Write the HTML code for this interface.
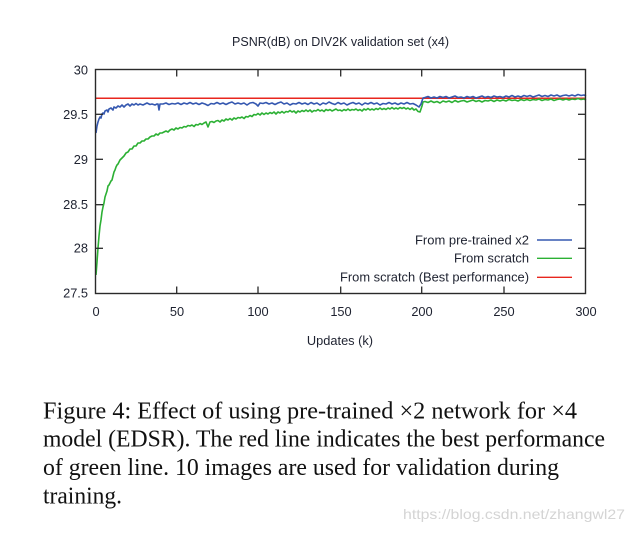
<!DOCTYPE html>
<html><head><meta charset="utf-8"><style>
html,body{margin:0;padding:0;background:#fff;}
svg{display:block;}
.s{font-family:"Liberation Sans",sans-serif;fill:#1e2230;font-size:12.8px;}
.c{font-family:"Liberation Serif",serif;fill:#111;font-size:24px;}
</style></head><body>
<svg width="635" height="533" viewBox="0 0 635 533" xmlns="http://www.w3.org/2000/svg">
<rect width="635" height="533" fill="#fff"/>
<text class="s" x="232" y="46" textLength="217" lengthAdjust="spacingAndGlyphs">PSNR(dB) on DIV2K validation set (x4)</text>
<line x1="96" y1="98.3" x2="586" y2="98.3" stroke="#e8261e" stroke-width="1.5"/>
<polyline fill="none" stroke="#2cb034" stroke-width="1.6" stroke-linejoin="round" points="96,275 97,262 98,248 99,236 100,226 101,220 102,212 103,207 104,203 105,197 106,194 107,191 108,186 109,185 110,183 111,181 112,180 113,176 114,172 115,170 116,167 117,165 118,164 120,160 122,158 124,156 126,153 128,152 130,149 132,149 134,146 136,146 138,143 140,143 142,141 144,141 146,139 148,139 150,137 152,136 154,136 156,134 158,135 160,133 162,133 164,132 166,131 168,132 170,130 172,129 174,130 176,128 178,129 180,127.5 182,128 184,126.5 186,127 188,125.5 190,126 192,125 194,126.5 196,124.5 198,125 200,123.5 202,124.5 204,123 206,122 208,127 210,122 212,121.5 214,122.5 216,121 218,120.5 220,122 222,120 224,121 226,119 228,120 230,118.5 232,120 234,118 236,119 238,117.5 240,118 242,117 244,118.5 246,116.5 248,117 250,115.5 252,116.5 254,114.5 256,115 258,113.5 260,115 262,113 264,114.5 266,113 268,114 270,112.5 272,113.5 274,112 276,114 278,112 280,113 282,111.5 284,113 286,111.5 288,112 290,110.5 292,112 294,111 296,113 298,111 300,112 302,110.5 304,111.5 306,110 308,111.5 310,110 312,112 314,110.5 316,111 318,109.5 320,111 322,110 324,111.5 326,109.5 328,110.5 330,109.5 332,111 334,110 336,109 338,110.5 340,110 342,111 344,109.5 346,110.5 348,109 350,110.5 352,109.5 354,110 356,109 358,110.5 360,109.5 362,111 364,109 366,110 368,108.5 370,110 372,109 374,110 376,108.5 378,109.5 380,108 382,109.5 384,108.5 386,109.5 388,108 390,109 392,107.5 394,109 396,108 398,109 400,107.5 402,108.5 404,107.5 406,109 408,108 410,109.5 412,108 414,110 416,109 418,111.5 420,112 422,106 423,102 425,101.5 428,102.5 431,101 434,102.5 437,101.5 440,103 443,101 446,102 449,101 452,102.5 455,100.5 458,102 461,101 464,100.5 467,102 470,101 473,100 476,101.5 479,100.5 482,102 485,100.5 488,101 491,100 494,101.5 497,100 500,101 503,100 506,101 509,99.5 512,100.5 515,100 518,101 521,99.5 524,100.5 527,99.5 530,100.5 533,99.5 536,100 539,99 542,100.5 545,99.5 548,100 551,99 554,100.5 557,99.5 560,99 563,100 566,99 569,100 572,99 575,99.5 578,98.5 581,99.5 584,99 586,100"/>
<polyline fill="none" stroke="#3558b0" stroke-width="1.6" stroke-linejoin="round" points="96,133 97,126 98,122 99,119 100,117 101,118 102,114 103,113 104,114 105,111 107,110 108,112 109,109 111,108 113,110 114,107 116,108 118,106 120,107 122,105 124,107 126,105 128,104 130,106 132,104 134,105 136,103.5 138,105 140,104 143,105 145,104 147,103 150,104.5 152,104 155,105 157,104 158,104 159,110 160,104 163,104 166,103 169,104.5 172,103.5 175,104 178,103 181,104.5 184,103 187,104 190,102.5 193,104 196,103 199,104.5 202,103 205,104 208,105.5 211,103.5 214,104 217,102.5 220,104 223,103 226,104.5 229,103 232,102 235,104 238,103 241,104 244,103 247,105 250,103 253,102.5 256,104 258,106 260,103 263,103.5 266,102.5 269,104 272,103 275,104.5 278,103 281,102 284,104 287,103 290,105 293,103.5 296,104 299,102.5 302,104 305,103 308,104.5 311,102.5 314,104 317,103 320,105 323,103 326,104 329,102 332,103.5 335,104.5 338,102.5 341,104 344,103 347,105 350,103.5 353,102.5 356,104 359,103 362,105 365,103 368,104 371,102.5 374,104 377,103 380,105 383,103.5 386,104 389,102.5 392,104 395,103 398,104.5 401,103 404,104 407,102.5 410,104 413,103.5 416,105 419,107 421,104 423,98 425,97.5 428,96.5 431,98 434,97 437,98 440,96.5 443,97.5 446,96.5 449,98 452,97 455,96 458,97.5 461,97 464,98 467,96.5 470,97.5 473,96.5 476,98 479,97 482,96 485,97.5 488,96.5 491,97.5 494,96 497,97 500,96.5 503,97.5 506,96 509,97 512,95.5 515,97 518,96 521,97 524,95.5 527,96.5 530,95.5 533,97 536,96 539,95 542,96.5 545,95.5 548,96.5 551,95 554,96 557,95 560,96.5 563,95.5 566,95 569,96 572,95 575,96 578,94.5 581,95.5 584,95 586,96"/>
<rect x="95.5" y="69.5" width="490" height="224" fill="none" stroke="#2a2a2a" stroke-width="1.4"/>
<g stroke="#2a2a2a" stroke-width="1.3">
<line x1="176.7" y1="293.5" x2="176.7" y2="286.5"/><line x1="258" y1="293.5" x2="258" y2="286.5"/><line x1="340.7" y1="293.5" x2="340.7" y2="286.5"/><line x1="421.7" y1="293.5" x2="421.7" y2="286.5"/><line x1="504" y1="293.5" x2="504" y2="286.5"/>
<line x1="176.7" y1="69.5" x2="176.7" y2="76.5"/><line x1="258" y1="69.5" x2="258" y2="76.5"/><line x1="340.7" y1="69.5" x2="340.7" y2="76.5"/><line x1="421.7" y1="69.5" x2="421.7" y2="76.5"/><line x1="504" y1="69.5" x2="504" y2="76.5"/>
<line x1="95.5" y1="114.3" x2="103" y2="114.3"/><line x1="95.5" y1="159.3" x2="103" y2="159.3"/><line x1="95.5" y1="204.7" x2="103" y2="204.7"/><line x1="95.5" y1="248.3" x2="103" y2="248.3"/>
<line x1="585.5" y1="114.3" x2="578" y2="114.3"/><line x1="585.5" y1="159.3" x2="578" y2="159.3"/><line x1="585.5" y1="204.7" x2="578" y2="204.7"/><line x1="585.5" y1="248.3" x2="578" y2="248.3"/>
</g>
<g class="s" text-anchor="end">
<text x="88" y="74.5">30</text>
<text x="88" y="118.8">29.5</text>
<text x="88" y="163.8">29</text>
<text x="88" y="209">28.5</text>
<text x="88" y="252.7">28</text>
<text x="88" y="297.7">27.5</text>
</g>
<g class="s" text-anchor="middle">
<text x="96" y="316">0</text>
<text x="177" y="316">50</text>
<text x="258" y="316">100</text>
<text x="341" y="316">150</text>
<text x="422" y="316">200</text>
<text x="504" y="316">250</text>
<text x="586" y="316">300</text>
<text x="340" y="345">Updates (k)</text>
</g>
<text class="s" x="415" y="244.3" textLength="114" lengthAdjust="spacingAndGlyphs">From pre-trained x2</text>
<text class="s" x="454" y="262.6" textLength="75" lengthAdjust="spacingAndGlyphs">From scratch</text>
<text class="s" x="340" y="281.6" textLength="189" lengthAdjust="spacingAndGlyphs">From scratch (Best performance)</text>
<line x1="537" y1="240" x2="572" y2="240" stroke="#3558b0" stroke-width="1.4"/>
<line x1="537" y1="258.3" x2="572" y2="258.3" stroke="#2cb034" stroke-width="1.4"/>
<line x1="537" y1="277.3" x2="572" y2="277.3" stroke="#e8261e" stroke-width="1.4"/>
<text class="c" x="43" y="418.3" textLength="534" lengthAdjust="spacingAndGlyphs">Figure 4: Effect of using pre-trained ×2 network for ×4</text>
<text class="c" x="43" y="446.7" textLength="562" lengthAdjust="spacingAndGlyphs">model (EDSR). The red line indicates the best performance</text>
<text class="c" x="43" y="475" textLength="516" lengthAdjust="spacingAndGlyphs">of green line. 10 images are used for validation during</text>
<text class="c" x="43" y="503.3" textLength="79" lengthAdjust="spacingAndGlyphs">training.</text>
<text x="403" y="519" textLength="222" lengthAdjust="spacingAndGlyphs" style="font-family:'Liberation Sans',sans-serif;font-size:14px;fill:#d4d4d4;">https://blog.csdn.net/zhangwl27</text>
</svg>
</body></html>
